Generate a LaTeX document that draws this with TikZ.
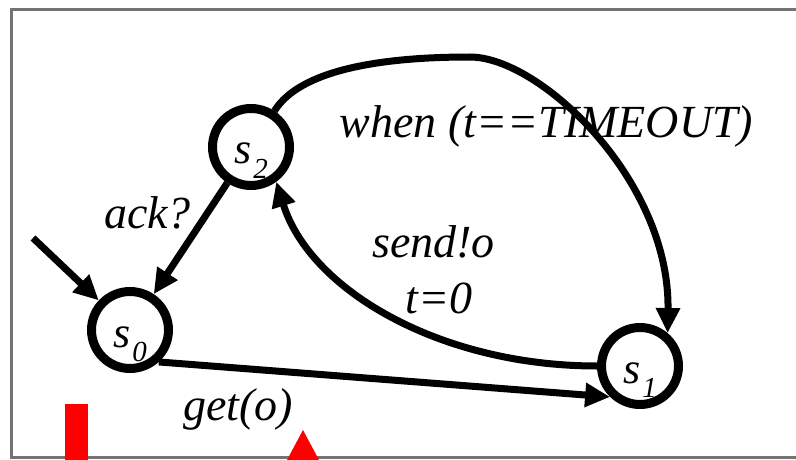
\documentclass[tikz,border=0pt]{standalone}
\usepackage{fontspec}
\setmainfont{Liberation Serif}
\usetikzlibrary{arrows.meta}
\newcommand\stname[1]{\raisebox{-17pt}[0pt][0pt]{s\hspace{2pt}\raisebox{-14pt}{\fontsize{29}{29}\selectfont #1}}}
\begin{document}
\begin{tikzpicture}[x=1pt,y=-1pt,
  state/.style={circle, draw, line width=9pt, minimum size=77pt, inner sep=0pt, font=\fontsize{44}{44}\selectfont\itshape},
  edge/.style={line width=7pt, -{Triangle[length=25pt,width=23pt]}},
  lbl/.style={font=\fontsize{46}{46}\selectfont\itshape, anchor=base, inner sep=0pt},
  frame/.style={draw=black!55, line width=3pt},
  redmark/.style={fill=red, draw=none}]
\useasboundingbox (0,0) rectangle (796,460);
\fill[white] (0,0) rectangle (796,460);
\draw[frame] (800,10) -- (11,10) -- (11,457) -- (800,457);
\fill[redmark] (65,404) rectangle (88,460);
\fill[redmark] (303,430) -- (319,460) -- (287,460) -- cycle;

\node[state] (s0) at (130,330) {\stname{0}};
\node[state] (s1) at (640,366) {\stname{1}};
\node[state] (s2) at (251,147) {\stname{2}};
\coordinate (init) at (33,238);
\coordinate (top) at (470,57);

\draw[edge] (init) -- (s0);
\draw[edge] (s2) -- (s0);
\draw[edge] (s0.-48) -- (s1.-134);
\draw[edge] (s1.west) .. controls (440,366) and (310,290) .. (s2.-54);
\draw[edge] (s2.57) .. controls (300,70) and (380,57) .. (top) .. controls (540,57) and (670,180) .. (s1.50);

\node[lbl] (lwhen) at (546.5,138) {when (t==TIMEOUT)};
\node[lbl] (lack) at (147.5,228) {ack?};
\node[lbl] (lsend) at (433.5,257) {send!o};
\node[lbl] (lt) at (439,313) {t=0};
\node[lbl] (lget) at (238,420) {get(o)};
\end{tikzpicture}
\end{document}
